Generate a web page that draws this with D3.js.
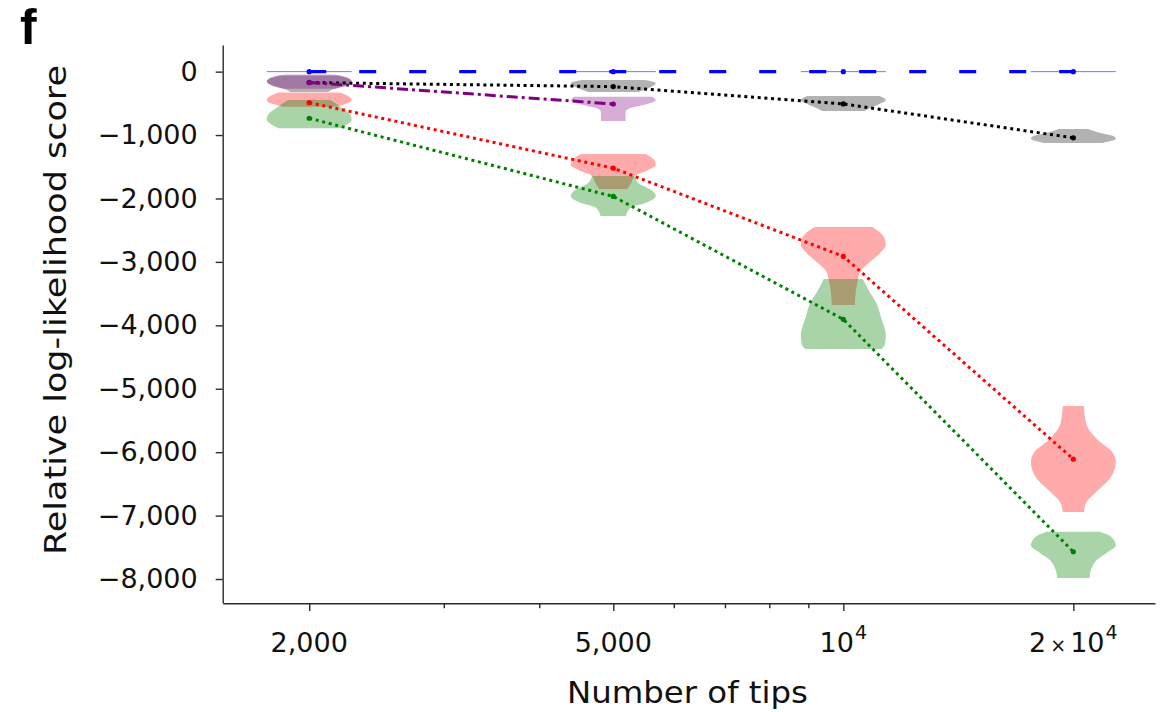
<!DOCTYPE html>
<html>
<head>
<meta charset="utf-8">
<script src="https://cdn.jsdelivr.net/npm/d3@7"></script>
<style>
  html, body { margin: 0; padding: 0; background: #fff; }
  svg { display: block; }
</style>
</head>
<body>
<svg id="chart" width="1166" height="712"></svg>
<script>
// ---- data ---------------------------------------------------------------
const tipCounts = [2000, 5000, 10000, 20000];

// median relative log-likelihood of each method at each tree size
const blueScores   = [0, 0, 0, 0];
const blackScores  = [-173, -236, -509, -1044];
const purpleScores = [-170, -510];
const redScores    = [-489, -1522, -2913, -6110];
const greenScores  = [-735, -1968, -3905, -7570];

// violin outlines: [score, relative density] from top to bottom, one per tree size
const blueViolins = [
  [[0, 1], [0, 1]], [[0, 1], [0, 1]], [[0, 1], [0, 1]], [[0, 1], [0, 1]]
];
const grayViolins = [
  [[-60, 0.7], [-150, 1.0], [-230, 0.85], [-280, 0.55], [-320, 0.45]],
  [[-130, 0.75], [-180, 1.0], [-240, 0.9], [-320, 0.6]],
  [[-383, 0.85], [-446, 1.0], [-510, 0.85], [-570, 0.65], [-620, 0.5]],
  [[-904, 0.35], [-960, 0.6], [-1020, 0.95], [-1060, 1.0], [-1124, 0.7]]
];
const purpleViolins = [
  [[-45, 0.55], [-90, 0.9], [-160, 1.0], [-220, 0.85], [-270, 0.6]],
  [[-394, 0.92], [-450, 1.0], [-520, 0.75], [-590, 0.35], [-640, 0.29], [-777, 0.29]]
];
const redViolins = [
  [[-330, 0.72], [-400, 0.95], [-450, 1.0], [-500, 0.9], [-555, 0.62]],
  [[-1298, 0.76], [-1400, 0.97], [-1470, 1.0], [-1560, 0.8], [-1645, 0.5], [-1760, 0.42], [-1850, 0.33]],
  [[-2448, 0.68], [-2600, 0.95], [-2730, 1.0], [-2870, 0.85], [-3016, 0.6], [-3150, 0.4], [-3260, 0.35], [-3680, 0.27]],
  [[-5271, 0.25], [-5540, 0.3], [-5810, 0.58], [-6000, 0.92], [-6150, 1.0], [-6400, 0.88], [-6640, 0.52], [-6800, 0.3], [-6942, 0.25]]
];
const greenViolins = [
  [[-446, 0.5], [-560, 0.75], [-680, 0.97], [-760, 1.0], [-830, 0.9], [-892, 0.72]],
  [[-1645, 0.5], [-1760, 0.6], [-1880, 0.92], [-1960, 1.0], [-2060, 0.8], [-2150, 0.4], [-2275, 0.3]],
  [[-3270, 0.46], [-3450, 0.6], [-3650, 0.78], [-3900, 0.9], [-4150, 1.0], [-4300, 0.98], [-4374, 0.9]],
  [[-7253, 0.63], [-7300, 0.8], [-7400, 0.97], [-7470, 1.0], [-7580, 0.8], [-7700, 0.55], [-7850, 0.42], [-7984, 0.38]]
];

// axis ticks
const yTickValues  = [0, -1000, -2000, -3000, -4000, -5000, -6000, -7000, -8000];
const xMajorTicks  = [2000, 5000, 10000, 20000];
const xMinorTicks  = [3000, 4000, 6000, 7000, 8000, 9000];
// [mantissa, base, exponent] for each major tick
const xTickLabels  = [["", "2,000", ""], ["", "5,000", ""], ["", "10", "4"], ["2", "10", "4"]];

// ---- layout -------------------------------------------------------------
const FONT = "'DejaVu Sans', sans-serif";
const AXIS_COLOR = "#2b2b2b";
const VIOLIN_HALF_DECADES = 0.0556;   // half-width of a violin on the log axis

const svg = d3.select("#chart");
const x = d3.scaleLog().domain([1541, 25580]).range([222.7, 1155]);
const y = d3.scaleLinear().domain([420, -8375]).range([45, 602.8]);

// ---- violins ------------------------------------------------------------
function violinArea(tips) {
  return d3.area()
    .y(d => y(d[0]))
    .x0(d => x(tips * Math.pow(10, -d[1] * VIOLIN_HALF_DECADES)))
    .x1(d => x(tips * Math.pow(10,  d[1] * VIOLIN_HALF_DECADES)))
    .curve(d3.curveMonotoneY);
}

const violinSets = [
  { shapes: grayViolins,   fill: "#000000", opacity: 0.30 },
  { shapes: purpleViolins, fill: "#800080", opacity: 0.32 },
  { shapes: redViolins,    fill: "#ff0000", opacity: 0.33 },
  { shapes: greenViolins,  fill: "#008000", opacity: 0.34 }
];

const gViolins = svg.append("g");
violinSets.forEach(set => {
  set.shapes.forEach((shape, i) => {
    gViolins.append("path")
      .attr("d", violinArea(tipCounts[i])(shape))
      .attr("fill", set.fill)
      .attr("fill-opacity", set.opacity)
      .attr("stroke", "none");
  });
});
// the reference method has no spread: its violins collapse to a line
blueViolins.forEach((shape, i) => {
  gViolins.append("path")
    .attr("d", violinArea(tipCounts[i])(shape))
    .attr("fill", "none")
    .attr("stroke", "#0000ff")
    .attr("stroke-opacity", 0.3)
    .attr("stroke-width", 1);
});

// ---- median lines -------------------------------------------------------
const line = d3.line().x(d => x(d[0])).y(d => y(d[1]));

const series = [
  { scores: blueScores,   color: "#0000ff", dash: "17,33",     width: 3.2 },
  { scores: blackScores,  color: "#000000", dash: "3,3.7",     width: 3 },
  { scores: purpleScores, color: "#800080", dash: "11,4,3,4",  width: 3 },
  { scores: redScores,    color: "#ff0000", dash: "3,3.7",     width: 3 },
  { scores: greenScores,  color: "#008000", dash: "3,3.7",     width: 3 }
];

const gLines = svg.append("g");
series.forEach(s => {
  const pts = s.scores.map((v, i) => [tipCounts[i], v]);
  gLines.append("path")
    .attr("d", line(pts))
    .attr("fill", "none")
    .attr("stroke", s.color)
    .attr("stroke-width", s.width)
    .attr("stroke-dasharray", s.dash);
  gLines.selectAll(null)
    .data(pts)
    .enter().append("circle")
    .attr("cx", d => x(d[0]))
    .attr("cy", d => y(d[1]))
    .attr("r", 2.6)
    .attr("fill", s.color);
});

// ---- axes ---------------------------------------------------------------
const fmt = v => v === 0 ? "0" : "\u2212" + d3.format(",")(-v);

const gy = svg.append("g")
  .attr("transform", "translate(222.7,0)")
  .call(d3.axisLeft(y).tickValues(yTickValues).tickFormat(fmt)
          .tickSize(7).tickSizeOuter(0).tickPadding(18));
gy.selectAll("text")
  .attr("font-family", FONT).attr("font-size", 27).attr("fill", "#111");

const gxMinor = svg.append("g")
  .attr("transform", "translate(0,603.3)")
  .call(d3.axisBottom(x).tickValues(xMinorTicks).tickFormat("")
          .tickSize(5).tickSizeOuter(0));
gxMinor.select(".domain").remove();

const gx = svg.append("g")
  .attr("transform", "translate(0,603.3)")
  .call(d3.axisBottom(x).tickValues(xMajorTicks).tickFormat("")
          .tickSize(7.7).tickSizeOuter(0));

svg.selectAll(".domain, .tick line")
  .attr("stroke", AXIS_COLOR).attr("stroke-width", 1.4);

// x tick labels, with exponents raised
const xLabels = svg.append("g")
  .attr("font-family", FONT).attr("font-size", 27).attr("fill", "#111");
xMajorTicks.forEach((t, i) => {
  const [mant, base, exp] = xTickLabels[i];
  const txt = xLabels.append("text")
    .attr("x", x(t)).attr("y", 652)
    .attr("text-anchor", "middle");
  if (mant) {
    txt.append("tspan").text(mant);
    txt.append("tspan").attr("dx", 4).attr("font-size", 19).text("\u00d7");
    txt.append("tspan").attr("dx", 4).text(base);
  } else {
    txt.append("tspan").text(base);
  }
  if (exp) {
    txt.append("tspan").attr("dy", -13).attr("dx", 1)
      .attr("font-size", 19).text(exp);
  }
});

// ---- titles -------------------------------------------------------------
svg.append("text")
  .attr("x", 687.5).attr("y", 703)
  .attr("text-anchor", "middle")
  .attr("font-family", FONT).attr("font-size", 30).attr("fill", "#111")
  .attr("textLength", 241).attr("lengthAdjust", "spacingAndGlyphs")
  .text("Number of tips");

svg.append("text")
  .attr("transform", "translate(66,310) rotate(-90)")
  .attr("text-anchor", "middle")
  .attr("font-family", FONT).attr("font-size", 30).attr("fill", "#111")
  .attr("textLength", 490).attr("lengthAdjust", "spacingAndGlyphs")
  .text("Relative log-likelihood score");

svg.append("text")
  .attr("x", 20).attr("y", 44)
  .attr("font-family", "'Liberation Sans', Arial, sans-serif")
  .attr("font-weight", "bold").attr("font-size", 50).attr("fill", "#000")
  .text("f");
</script>
</body>
</html>
